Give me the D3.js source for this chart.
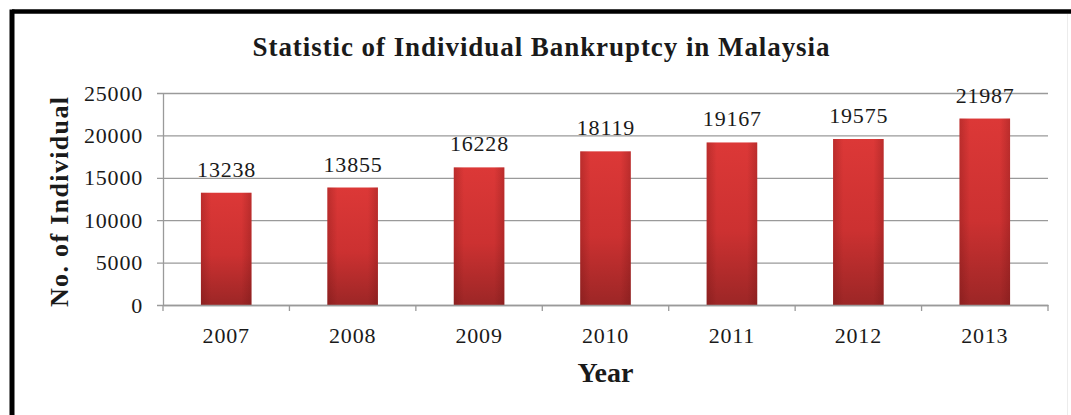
<!DOCTYPE html>
<html>
<head>
<meta charset="utf-8">
<script src="https://cdn.jsdelivr.net/npm/d3@7"></script>
<style>
  html, body { margin: 0; padding: 0; background: #fff; }
  svg { display: block; }
  text { font-family: "Liberation Serif", "Times New Roman", serif; fill: #1a1a1a; }
</style>
</head>
<body>
<svg id="chart" width="1071" height="415"></svg>
<script>
// Individual bankruptcy cases per year
const years = ["2007", "2008", "2009", "2010", "2011", "2012", "2013"];
const cases = [13238, 13855, 16228, 18119, 19167, 19575, 21987];
const yTicks = [0, 5000, 10000, 15000, 20000, 25000];

const titleText = "Statistic of Individual Bankruptcy in Malaysia";
const xTitle = "Year";
const yTitle = "No. of Individual";

const W = 1071, H = 415;
const plot = { left: 163, right: 1048, top: 93, bottom: 305 };
const numFont = "22px", numSpacing = "0.8px";

const svg = d3.select("#chart");

// white page with a heavy frame along the top and left edges
svg.append("rect").attr("width", W).attr("height", H).attr("fill", "#fff");
svg.append("line").attr("x1", 12).attr("x2", W).attr("y1", 11.5).attr("y2", 11.5)
  .attr("stroke", "#000").attr("stroke-width", 4.5);
svg.append("line").attr("x1", 12).attr("x2", 12).attr("y1", 9.5).attr("y2", H)
  .attr("stroke", "#000").attr("stroke-width", 5);
svg.append("line").attr("x1", 1067.5).attr("x2", 1067.5).attr("y1", 14).attr("y2", H)
  .attr("stroke", "#ececec").attr("stroke-width", 1);

const x = d3.scaleBand().domain(years).range([plot.left, plot.right])
  .paddingInner(0.6).paddingOuter(0.3);
const y = d3.scaleLinear().domain([0, 25000]).range([plot.bottom, plot.top]);

// bar fill: bright red at the top fading to a deeper red
const defs = svg.append("defs");
const grad = defs.append("linearGradient").attr("id", "barFill")
  .attr("x1", 0).attr("y1", 0).attr("x2", 0).attr("y2", 1);
grad.append("stop").attr("offset", "0%").attr("stop-color", "#dc3837");
grad.append("stop").attr("offset", "55%").attr("stop-color", "#cc3131");
grad.append("stop").attr("offset", "100%").attr("stop-color", "#9c2626");
const edge = defs.append("linearGradient").attr("id", "barEdge")
  .attr("x1", 0).attr("y1", 0).attr("x2", 1).attr("y2", 0);
edge.append("stop").attr("offset", "0%").attr("stop-color", "#5a0d0d").attr("stop-opacity", 0.25);
edge.append("stop").attr("offset", "20%").attr("stop-color", "#5a0d0d").attr("stop-opacity", 0);
edge.append("stop").attr("offset", "80%").attr("stop-color", "#5a0d0d").attr("stop-opacity", 0);
edge.append("stop").attr("offset", "100%").attr("stop-color", "#5a0d0d").attr("stop-opacity", 0.25);

// y axis with full-width gridlines
const yAxis = d3.axisLeft(y).tickValues(yTicks).tickFormat(d3.format("d"))
  .tickSizeInner(-(plot.right - plot.left)).tickSizeOuter(0).tickPadding(20);
const gy = svg.append("g").attr("transform", `translate(${plot.left},0)`).call(yAxis);
gy.select(".domain").attr("stroke", "#9a9a9a").attr("stroke-width", 1.3);
gy.selectAll(".tick line").attr("x1", -6).attr("stroke", "#9a9a9a").attr("stroke-width", 1.3);
gy.selectAll(".tick text")
  .style("font-family", "'Liberation Serif', serif").style("font-size", numFont)
  .style("letter-spacing", numSpacing).attr("fill", "#1a1a1a");

// bars
const bars = svg.append("g");
bars.selectAll("rect.bar").data(years).join("rect").attr("class", "bar")
  .attr("x", d => x(d)).attr("width", x.bandwidth())
  .attr("y", (d, i) => y(cases[i])).attr("height", (d, i) => y(0) - y(cases[i]))
  .attr("fill", "url(#barFill)");
bars.selectAll("rect.edge").data(years).join("rect").attr("class", "edge")
  .attr("x", d => x(d)).attr("width", x.bandwidth())
  .attr("y", (d, i) => y(cases[i])).attr("height", (d, i) => y(0) - y(cases[i]))
  .attr("fill", "url(#barEdge)");

// value labels above each bar
svg.append("g").selectAll("text").data(years).join("text")
  .attr("x", d => x(d) + x.bandwidth() / 2 + 0.4)
  .attr("y", (d, i) => y(cases[i]) - 16)
  .attr("text-anchor", "middle")
  .style("font-size", numFont).style("letter-spacing", numSpacing)
  .text((d, i) => cases[i]);

// x axis: baseline, ticks at category boundaries, year labels
const gx = svg.append("g").attr("transform", `translate(0,${plot.bottom})`)
  .call(d3.axisBottom(x).tickSize(0).tickPadding(22));
gx.select(".domain").attr("stroke", "#9a9a9a").attr("stroke-width", 1.3);
gx.selectAll(".tick text")
  .style("font-family", "'Liberation Serif', serif").style("font-size", numFont)
  .style("letter-spacing", numSpacing).attr("fill", "#1a1a1a");
gx.selectAll("line.bound").data(d3.range(years.length + 1)).join("line").attr("class", "bound")
  .attr("x1", i => plot.left + i * x.step()).attr("x2", i => plot.left + i * x.step())
  .attr("y1", 0).attr("y2", 6).attr("stroke", "#9a9a9a").attr("stroke-width", 1.3);

// titles
svg.append("text").attr("x", 541).attr("y", 56).attr("text-anchor", "middle")
  .style("font-size", "27px").style("font-weight", "bold")
  .attr("textLength", 577).attr("lengthAdjust", "spacing")
  .text(titleText);
svg.append("text").attr("x", (plot.left + plot.right) / 2).attr("y", 382)
  .attr("text-anchor", "middle")
  .style("font-size", "27px").style("font-weight", "bold")
  .attr("textLength", 56).attr("lengthAdjust", "spacingAndGlyphs")
  .text(xTitle);
svg.append("text")
  .attr("transform", "translate(68,202) rotate(-90)")
  .attr("text-anchor", "middle")
  .style("font-size", "26px").style("font-weight", "bold")
  .attr("textLength", 210).attr("lengthAdjust", "spacing")
  .text(yTitle);
</script>
</body>
</html>
